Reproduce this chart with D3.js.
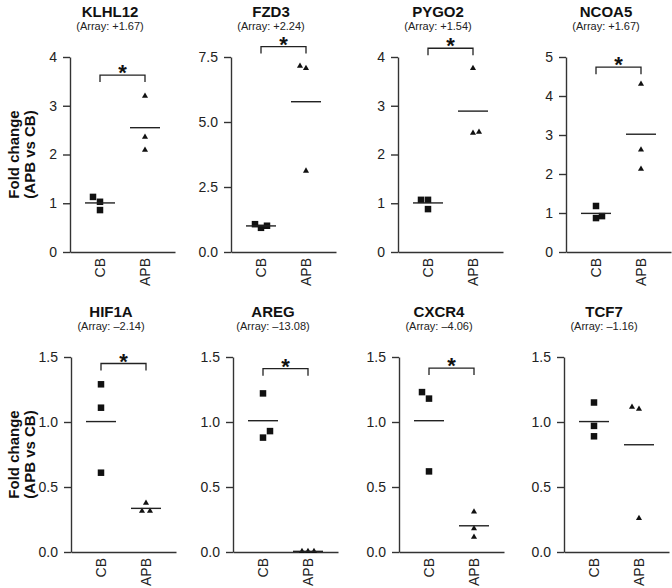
<!DOCTYPE html>
<html><head><meta charset="utf-8">
<script src="https://cdn.jsdelivr.net/npm/d3@7"></script>
<style>
body{margin:0;background:#fff}
text{font-family:"Liberation Sans",Arial,Helvetica,sans-serif}
</style>
</head><body>
<svg id="chart" width="672" height="588"></svg>
<script>
// ---- data ----
const genes = ["KLHL12","FZD3","PYGO2","NCOA5","HIF1A","AREG","CXCR4","TCF7"];
const arrayFC = ["+1.67","+2.24","+1.54","+1.67","\u20132.14","\u201313.08","\u20134.06","\u20131.16"];
const groups = ["CB","APB"];
const yMax = [4, 7.5, 4, 5, 1.5, 1.5, 1.5, 1.5];
const yTicks = [[0,1,2,3,4],[0,2.5,5,7.5],[0,1,2,3,4],[0,1,2,3,4,5],
                [0,0.5,1,1.5],[0,0.5,1,1.5],[0,0.5,1,1.5],[0,0.5,1,1.5]];
const tickFormats = ["d",".1f","d","d",".1f",".1f",".1f",".1f"];
const cbValues = [
  [1.13,1.03,0.86],[1.07,0.93,1.01],[1.07,1.07,0.88],[1.18,0.87,0.92],
  [1.29,1.11,0.61],[1.22,0.88,0.93],[1.23,1.18,0.62],[1.15,0.97,0.89]];
const apbValues = [
  [3.20,2.36,2.09],[7.15,7.07,3.12],[3.77,2.44,2.46],[4.31,2.62,2.13],
  [0.377,0.315,0.315],[0.005,0.005,0.005],[0.31,0.18,0.115],[1.115,1.10,0.26]];
const significant = [true,true,true,true,true,true,true,false];
const bracketLevel = [3.63,7.9,4.18,4.74,1.45,1.41,1.415,null];

// ---- layout (positions / styles, not data) ----
const axisXs = [70,231,398,566,71,233,399,564];
const rowTop = [57,357], rowBottom = [252,552];
const jitterCB = [[-7,0,0],[-6,0,6],[-7,0,0],[0,0,6],[0,0,0],[0,0,7],[-7,0,0],[0,0,0]];
const jitterAPB = [[0,0,0],[-6,0,0],[0,0,6],[0,0,0],[0,-4,4],[-6,0,6],[0,0,0],[-7,0,0]];
const axisColor = "#333", ink = "#111";

const svg = d3.select("#chart");

genes.forEach((g,i)=>{
  const row = i<4?0:1;
  const ax = axisXs[i];
  const gp = svg.append("g").attr("transform",`translate(${ax},0)`);
  const y = d3.scaleLinear().domain([0,yMax[i]]).range([rowBottom[row],rowTop[row]]);
  const x = d3.scalePoint().domain(groups).range([0,105]).padding(0.6667);

  // y axis
  const ya = gp.append("g").call(d3.axisLeft(y).tickValues(yTicks[i])
      .tickFormat(d3.format(tickFormats[i])).tickSize(7).tickSizeOuter(0).tickPadding(6));
  ya.select(".domain").attr("stroke",axisColor).attr("stroke-width",1.4);
  ya.selectAll(".tick line").attr("stroke",axisColor).attr("stroke-width",1.4);
  ya.selectAll(".tick text").attr("font-size",14).attr("fill","#222")
     .attr("font-family","'Liberation Sans',Arial,sans-serif");

  // x axis
  const xa = gp.append("g").attr("transform",`translate(0,${rowBottom[row]})`)
     .call(d3.axisBottom(x).tickSize(0).tickSizeOuter(0).tickPadding(0));
  xa.select(".domain").attr("stroke",axisColor).attr("stroke-width",1.4);
  xa.selectAll(".tick text").attr("font-size",14).attr("fill","#222")
     .attr("font-family","'Liberation Sans',Arial,sans-serif")
     .attr("text-anchor","end").attr("dy","0.35em").attr("y",0)
     .attr("transform","translate(0,6) rotate(-90)");

  // titles
  gp.append("text").attr("x",40).attr("y",rowTop[row]-40).attr("text-anchor","middle")
    .attr("font-size",15).attr("font-weight","bold").attr("fill",ink).text(g);
  gp.append("text").attr("x",40).attr("y",rowTop[row]-27.5).attr("text-anchor","middle")
    .attr("font-size",11).attr("fill","#222").text(`(Array: ${arrayFC[i]})`);

  // points
  const sq = 6.5;
  gp.selectAll("rect.cb").data(cbValues[i]).join("rect")
    .attr("x",(d,k)=>x("CB")+jitterCB[i][k]-sq/2).attr("y",d=>y(d)-sq/2)
    .attr("width",sq).attr("height",sq).attr("fill",ink);
  const tri = d3.symbol().type(d3.symbolTriangle).size(16);
  gp.selectAll("path.apb").data(apbValues[i]).join("path")
    .attr("d",tri).attr("fill",ink)
    .attr("transform",(d,k)=>`translate(${x("APB")+jitterAPB[i][k]},${y(d)})`);

  // mean lines
  [[cbValues[i],"CB"],[apbValues[i],"APB"]].forEach(([vals,grp])=>{
    const m = d3.mean(vals);
    gp.append("line").attr("x1",x(grp)-15).attr("x2",x(grp)+15)
      .attr("y1",y(m)).attr("y2",y(m)).attr("stroke","#222").attr("stroke-width",1.4);
  });

  // significance bracket
  if(significant[i]){
    const by = y(bracketLevel[i]);
    gp.append("path").attr("fill","none").attr("stroke","#222").attr("stroke-width",1.3)
      .attr("d",`M${x("CB")},${by+7}V${by}H${x("APB")}V${by+7}`);
    gp.append("text").attr("x",(x("CB")+x("APB"))/2).attr("y",by+5)
      .attr("text-anchor","middle").attr("font-size",22).attr("font-weight","bold")
      .attr("fill",ink).text("*");
  }
});

// y-axis labels
[0,1].forEach(row=>{
  const cy = (rowTop[row]+rowBottom[row])/2;
  [["Fold change",19],["(APB vs CB)",35]].forEach(([t,bx])=>{
    svg.append("text").attr("transform",`translate(${bx},${cy}) rotate(-90)`)
      .attr("text-anchor","middle").attr("font-size",15).attr("font-weight","bold")
      .attr("fill",ink).text(t);
  });
});
</script>
</body></html>
